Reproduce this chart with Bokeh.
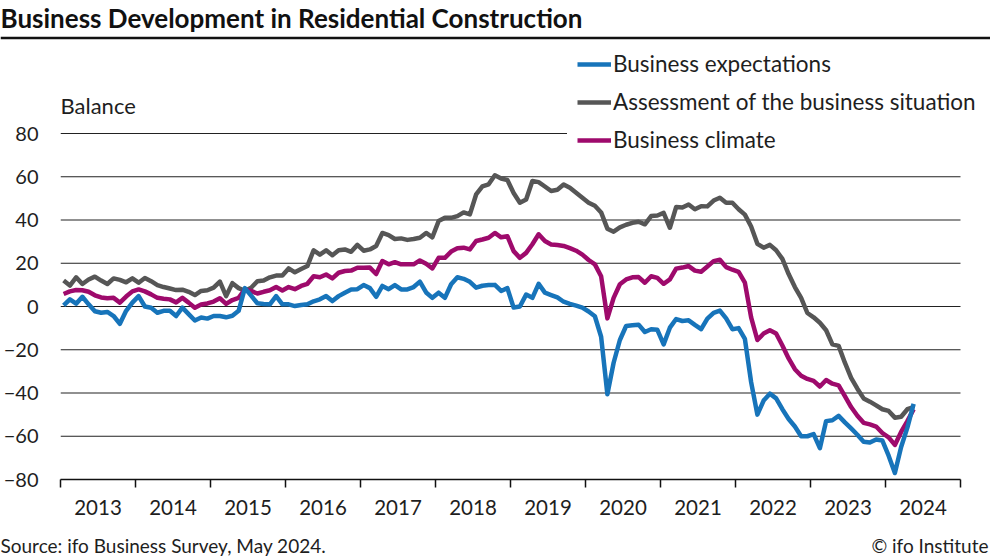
from bokeh.plotting import figure
from bokeh.layouts import column
from bokeh.models import Range1d, FixedTicker, Legend, LegendItem, Label, Span
from bokeh.embed import file_html
from bokeh.resources import INLINE

# ---------------- data (monthly, Jan 2013 - May 2024) ----------------
start_year = 2013
expectations = [
    0.5, 3.3, 1.3, 4.5, 1, -2.2, -2.9, -2.5, -4.4, -8, -2, 1.8,
    4.8, 0, -0.6, -2.9, -2, -2, -4.4, -0.5, -3.5, -6.5, -5.1, -5.6,
    -4.4, -4.4, -5, -4.3, -2, 8.5, 5, 1.5, 1.2, 1, 4.8, 1,
    1, 0.2, 0.7, 1, 2.4, 3.3, 4.8, 2.5, 4.8, 6.4, 7.9, 8,
    9.9, 8.5, 4.5, 9.5, 8, 9.9, 7.9, 7.9, 9, 11.5, 6.5, 4,
    6.4, 4, 10.3, 13.5, 12.8, 11.4, 8.7, 9.6, 9.9, 10, 7.2, 8.5,
    -0.5, 0, 5.5, 4, 10.5, 6.4, 5.3, 4.2, 2.2, 1.2, 0.4, -0.5,
    -2.3, -4.5, -14, -40.6, -26, -15.5, -9, -8.7, -8.4, -11.8, -10.5, -10.8,
    -17.5, -9.8, -5.8, -6.7, -6.4, -8.5, -10.5, -5.6, -2.9, -1.9, -5.5, -10.5,
    -10, -15, -35, -50, -43.5, -40.3, -42.5, -47.5, -52, -55.5, -60, -60,
    -59, -65.5, -53, -52.6, -50.6, -53.6, -56.4, -59.3, -62.5, -62.9, -61.5, -62,
    -69, -77, -65, -56, -45,
]
situation = [
    12, 9.7, 13.5, 10.4, 12.5, 13.8, 12, 10.4, 13, 12.3, 11.2, 13,
    11, 13.2, 11.7, 9.9, 9, 8.3, 7.6, 7.8, 6.8, 5.3, 7.2, 7.5,
    8.7, 11.5, 4.8, 10.8, 8.5, 7.3, 8.7, 11.7, 12, 13.5, 14.3, 14.3,
    17.6, 15.8, 17.3, 18.7, 26, 24, 26, 23.7, 26, 26.4, 25.3, 28.5,
    25.8, 26.4, 28, 34, 33, 31.2, 31.5, 30.8, 31.2, 31.8, 34, 32,
    39.5, 41, 41, 41.8, 43.5, 42.6, 51.8, 55.5, 56.5, 60.7, 59.2, 58.5,
    52.5, 48, 49.5, 58, 57.5, 55.5, 53.4, 54, 56.4, 54.9, 52.6, 50.3,
    48, 46.6, 43.5, 36, 34.6, 36.6, 37.8, 38.7, 39.2, 38, 41.8, 42.1,
    43.3, 36.4, 46, 45.8, 47.2, 45, 46.4, 46.3, 49, 50.3, 48, 48,
    45, 42.5, 37, 29, 27.2, 28.5, 26, 22, 15, 9, 4, -3,
    -5, -7.5, -11, -17.5, -18.2, -26, -33, -38, -42.5, -44, -45.7, -47.5,
    -48.3, -51.4, -51, -47.5, -46.5,
]
climate = [
    5.8, 7, 7.6, 7.5, 6.8, 5.2, 4.2, 3.8, 4, 1.8, 4.6, 7,
    7.9, 7, 5.6, 4, 3.6, 3.3, 1.9, 4, 1.8, -0.6, 0.9, 1.4,
    2.3, 3.8, 1.2, 3, 4, 7.9, 7.2, 6, 6.8, 7.5, 9, 7.4,
    9, 8, 9.5, 10.5, 14, 13.5, 14.8, 13, 15.6, 16.4, 16.6, 17.9,
    17.9, 18, 15, 21, 19.5, 20.5, 19.5, 19.5, 19.5, 21.3, 19.8, 17.6,
    22.5, 22.5, 25.4, 26.9, 27.2, 26.4, 30.3, 31, 31.8, 34, 32, 32.5,
    25.6, 22.5, 24.8, 28.8, 33.4, 30.3, 28.7, 28.4, 28, 27, 25.8, 24,
    21.5, 19.5, 14, -5.5, 4, 10.3, 12.5, 13.5, 13.6, 11, 14, 13.2,
    10.5, 12.5, 17.5, 18, 18.7, 16.6, 16.1, 18.5, 21, 21.6, 18.2, 17,
    16, 11, -5, -15.5, -12.5, -11, -12.5, -18, -24, -29, -32, -33.5,
    -34.4, -37, -34, -35.7, -36.5, -41.5, -46.5, -50.5, -53.8, -54.5, -55.5, -58.5,
    -60.5, -64, -58, -53, -47.5,
]
years = list(range(2013, 2025))
year_labels = [str(y) for y in years]
y_ticks = [-80, -60, -40, -20, 0, 20, 40, 60, 80]
grid_ticks = [-60, -40, -20, 0, 20, 40, 60, 80]
series_names = ["Business expectations", "Assessment of the business situation", "Business climate"]

title_text = "Business Development in Residential Construction"
unit_text = "Balance"
source_text = "Source: ifo Business Survey, May 2024."
copyright_text = "\u00a9 ifo Institute"

# ---------------- styling ----------------
FONT = "Lato"
TXT = "#1e1e1e"
C_BLUE = "#1774BA"
C_GRAY = "#565656"
C_MAG = "#9E0A6C"
W = 990
HEAD_H, FOOT_H = 40, 27
MAIN_H = 557 - HEAD_H - FOOT_H


def no_align(fig):
    if "frame_align" in fig.properties():
        fig.frame_align = False


# ---------------- header (title + rule) ----------------
head = figure(width=W, height=HEAD_H, output_backend="svg", toolbar_location=None,
              x_range=Range1d(0, W), y_range=Range1d(HEAD_H, 0),
              x_axis_location=None, y_axis_location=None,
              min_border=0, min_border_left=0, min_border_right=0,
              min_border_top=0, min_border_bottom=0)
no_align(head)
head.outline_line_color = None
head.grid.grid_line_color = None
head.add_layout(Label(x=0, y=17, text=title_text, text_font=FONT, text_font_size="26px",
                      text_font_style="bold", text_color="#111111",
                      text_baseline="middle", text_align="left"))
head.add_layout(Span(location=37.5, dimension="width", line_color="#111111", line_width=2.5))

# ---------------- main chart ----------------
px_per_unit = 346 / 160.0
y_top = 80 + (133 - HEAD_H) / px_per_unit
p = figure(width=W, height=MAIN_H, output_backend="svg", toolbar_location=None,
           x_range=Range1d(2013, 2025 + 30 / 75.0), y_range=Range1d(-80, y_top),
           min_border_left=60, min_border_right=0, min_border_top=0,
           min_border_bottom=MAIN_H - (479 - HEAD_H))
no_align(p)
p.outline_line_color = None
p.background_fill_color = "white"
p.border_fill_color = "white"
p.grid.grid_line_color = None

xa = p.xaxis[0]
xa.bounds = (years[0], years[-1] + 1)
xa.ticker = FixedTicker(ticks=[y + 0.5 for y in years], minor_ticks=list(range(years[0], years[-1] + 2)))
xa.major_label_overrides = {y + 0.5: lab for y, lab in zip(years, year_labels)}
xa.major_tick_out = 0
xa.major_tick_in = 0
xa.minor_tick_out = 8
xa.minor_tick_in = 0
xa.minor_tick_line_color = "#111111"
xa.minor_tick_line_width = 1.5
xa.axis_line_color = "#111111"
xa.axis_line_width = 1.5
xa.major_label_standoff = 12
xa.major_label_text_font = FONT
xa.major_label_text_font_size = "20.5px"
xa.major_label_text_color = TXT

ya = p.yaxis[0]
ya.ticker = FixedTicker(ticks=y_ticks)
ya.major_label_overrides = {t: (str(t).replace("-", "\u2212")) for t in y_ticks}
ya.major_tick_out = 0
ya.major_tick_in = 0
ya.minor_tick_out = 0
ya.minor_tick_in = 0
ya.axis_line_color = None
ya.major_label_standoff = 22
ya.major_label_text_font = FONT
ya.major_label_text_font_size = "20px"
ya.major_label_text_color = TXT

# horizontal grid lines at the tick values, spanning the year axis
n = len(grid_ticks)
p.segment(x0=[years[0]] * n, x1=[years[-1] + 1] * n, y0=grid_ticks, y1=grid_ticks,
          line_color="#222222", line_width=1.2)

x = [start_year + (i + 0.5) / 12 for i in range(len(expectations))]
r_sit = p.line(x, situation, line_color=C_GRAY, line_width=4.5, line_join="round")
r_cli = p.line(x, climate, line_color=C_MAG, line_width=4.5, line_join="round")
r_exp = p.line(x, expectations, line_color=C_BLUE, line_width=4.5, line_join="round")

legend = Legend(items=[LegendItem(label=series_names[0], renderers=[r_exp]),
                       LegendItem(label=series_names[1], renderers=[r_sit]),
                       LegendItem(label=series_names[2], renderers=[r_cli])],
                location=(507, 316))
legend.padding = 0
legend.margin = 0
legend.spacing = 11
legend.glyph_width = 34
legend.glyph_height = 26
legend.label_height = 26
legend.label_standoff = 2
legend.label_text_font = FONT
legend.label_text_font_size = "22.5px"
legend.label_text_color = TXT
legend.border_line_color = "white"
legend.border_line_width = 10
legend.background_fill_color = "white"
legend.background_fill_alpha = 1.0
p.add_layout(legend)

# "Balance" unit label (frame-relative screen units; frame left = 60, bottom = 479 on page)
p.add_layout(Label(x=0, y=479 - 105, x_units="screen", y_units="screen", text=unit_text,
                   text_font=FONT, text_font_size="22px", text_color=TXT,
                   text_baseline="middle", text_align="left"))

# ---------------- footer ----------------
foot = figure(width=W, height=FOOT_H, output_backend="svg", toolbar_location=None,
              x_range=Range1d(0, W), y_range=Range1d(FOOT_H, 0),
              x_axis_location=None, y_axis_location=None,
              min_border=0, min_border_left=0, min_border_right=0,
              min_border_top=0, min_border_bottom=0)
no_align(foot)
foot.outline_line_color = None
foot.grid.grid_line_color = None
foot.add_layout(Label(x=0, y=15, text=source_text, text_font=FONT, text_font_size="19px",
                      text_color=TXT, text_baseline="middle", text_align="left"))
foot.add_layout(Label(x=988, y=15, text=copyright_text, text_font=FONT, text_font_size="19px",
                      text_color=TXT, text_baseline="middle", text_align="right"))

layout = column(head, p, foot, spacing=0)
open("out.html", "w").write(file_html(layout, INLINE))
